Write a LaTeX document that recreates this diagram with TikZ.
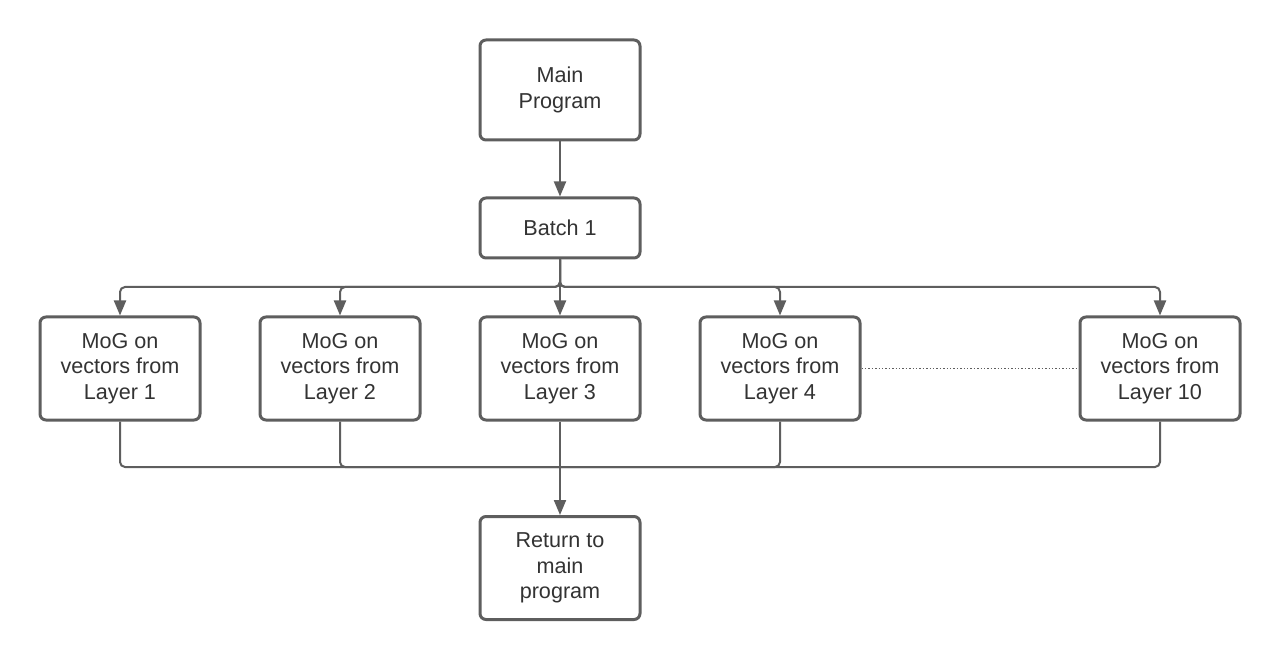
\documentclass[tikz,border=0pt]{standalone}
\usepackage{fontspec}
\setmainfont{Liberation Sans}
\usetikzlibrary{arrows.meta}
\definecolor{linegray}{HTML}{5E5E5E}
\definecolor{textgray}{HTML}{333333}
\tikzset{
  box/.style={draw=linegray, line width=3pt, rounded corners=6pt, fill=white,
    minimum width=160pt, minimum height=103pt, align=center, text=textgray,
    font=\fontsize{21.6}{25.8}\selectfont, inner sep=0pt},
  smallbox/.style={box, minimum height=60pt},
  conn/.style={draw=linegray, line width=2pt, rounded corners=5pt},
  arr/.style={conn, -{Triangle[length=15pt,width=12pt]}},
  dotline/.style={draw=linegray, line width=1.4pt, dotted}
}
\begin{document}
\begin{tikzpicture}[x=1pt,y=-1pt]
\useasboundingbox (0,0) rectangle (1280,660);
\node[box, minimum height=100pt] (main) at (560,90) {Main\\Program};
\node[smallbox] (batch) at (560,228) {Batch 1};
\node[box] (m1) at (120,368.5) {MoG on\\vectors from\\Layer 1};
\node[box] (m2) at (340,368.5) {MoG on\\vectors from\\Layer 2};
\node[box] (m3) at (560,368.5) {MoG on\\vectors from\\Layer 3};
\node[box] (m4) at (780,368.5) {MoG on\\vectors from\\Layer 4};
\node[box] (m10) at (1160,368.5) {MoG on\\vectors from\\Layer 10};
\node[box] (ret) at (560,568) {Return to\\main\\program};
\coordinate (bus1) at (560,287);
\coordinate (bus2) at (560,467);
\draw[arr] (main) -- (batch);
\draw[arr] (batch.south) -- (bus1) -| (m1.north);
\draw[arr] (batch.south) -- (bus1) -| (m2.north);
\draw[arr] (batch.south) -- (m3.north);
\draw[arr] (batch.south) -- (bus1) -| (m4.north);
\draw[arr] (batch.south) -- (bus1) -| (m10.north);
\draw[conn] (m1.south) |- (bus2);
\draw[conn] (m2.south) |- (bus2);
\draw[conn] (m4.south) |- (bus2);
\draw[conn] (m10.south) |- (bus2);
\draw[arr] (m3.south) -- (ret.north);
\draw[dotline] (m4.east) -- (m10.west);
\end{tikzpicture}
\end{document}
